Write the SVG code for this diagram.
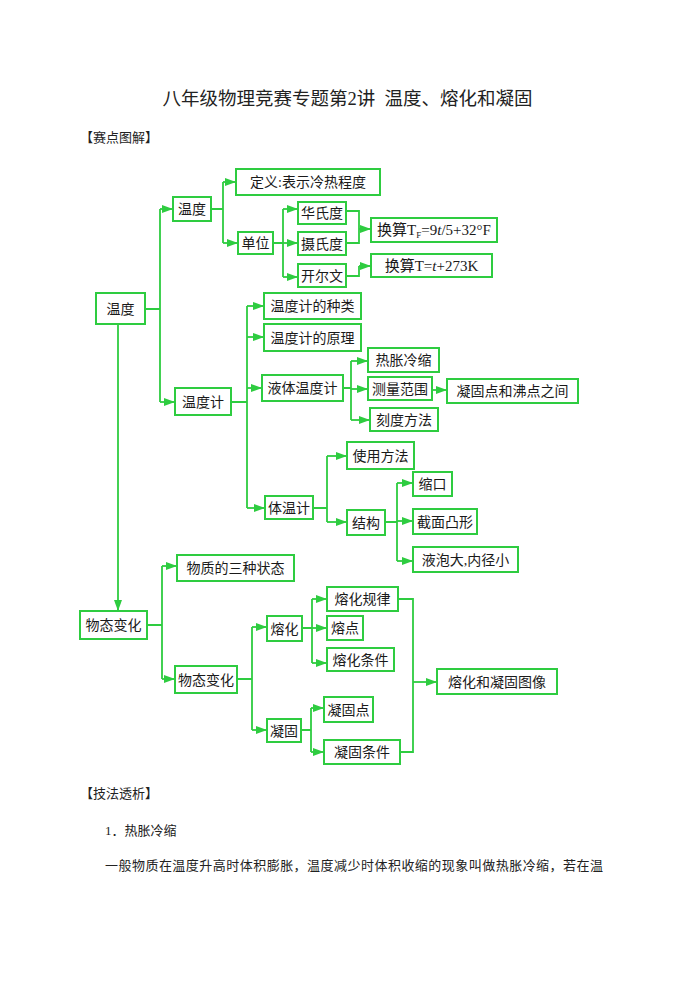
<svg xmlns="http://www.w3.org/2000/svg" width="695" height="982" viewBox="0 0 695 982">
<defs>
<marker id="ah" markerUnits="userSpaceOnUse" markerWidth="11" markerHeight="8" refX="11" refY="4" orient="auto">
<path d="M0,0 L11,4 L0,8 z" fill="#2ecc40"/>
</marker>
<style>
.bx{fill:#fff;stroke:#2ecc40;stroke-width:2}
.ln{fill:none;stroke:#2ecc40;stroke-width:1.8}
.ar{fill:none;stroke:#2ecc40;stroke-width:1.8;marker-end:url(#ah)}
.t{font-family:"Liberation Serif","Noto Sans CJK SC",serif;font-size:14px;fill:#1a1a1a;text-anchor:middle}
.p{font-family:"Liberation Serif","Noto Sans CJK SC",serif;font-size:13px;fill:#222}
</style>
</defs>
<rect width="695" height="982" fill="#fff"/>
<text x="347.5" y="105" font-family="Liberation Serif, Noto Sans CJK SC, serif" font-size="18.5" fill="#222" text-anchor="middle" xml:space="preserve">八年级物理竞赛专题第2讲  温度、熔化和凝固</text>
<text class="p" x="80" y="142">【赛点图解】</text>
<text class="p" x="80" y="798">【技法透析】</text>
<text class="p" x="105" y="835">1．热胀冷缩</text>
<text class="p" x="105" y="870" textLength="498" lengthAdjust="spacing">一般物质在温度升高时体积膨胀，温度减少时体积收缩的现象叫做热胀冷缩，若在温</text>

<g id="connectors">
<path class="ln" d="M145,309 H160 M160,209 V402"/>
<path class="ar" d="M160,209 H173"/>
<path class="ar" d="M160,402 H175"/>
<path class="ln" d="M211,209 H223 M223,182 V243"/>
<path class="ar" d="M223,182 H236"/>
<path class="ar" d="M223,243 H238"/>
<path class="ln" d="M273,243 H283 M283,209 V277"/>
<path class="ar" d="M283,209 H298"/>
<path class="ar" d="M283,243 H298"/>
<path class="ar" d="M283,277 H298"/>
<path class="ln" d="M346,211 H359 V243 H346"/>
<path class="ar" d="M359,229 H371"/>
<path class="ln" d="M346,276 H359 V266"/>
<path class="ar" d="M359,266 H371"/>
<path class="ln" d="M231,402 H247 M247,306 V508"/>
<path class="ar" d="M247,306 H264"/>
<path class="ar" d="M247,337 H264"/>
<path class="ar" d="M247,388 H262"/>
<path class="ar" d="M247,508 H265"/>
<path class="ln" d="M343,388 H351 M351,361 V420"/>
<path class="ar" d="M351,361 H368"/>
<path class="ar" d="M351,389 H368"/>
<path class="ar" d="M351,420 H370"/>
<path class="ar" d="M432,390 H447"/>
<path class="ln" d="M313,508 H327 M327,456 V522"/>
<path class="ar" d="M327,456 H347"/>
<path class="ar" d="M327,522 H347"/>
<path class="ln" d="M385,522 H397 M397,483 V561"/>
<path class="ar" d="M397,483 H413"/>
<path class="ar" d="M397,521 H413"/>
<path class="ar" d="M397,561 H413"/>
<path class="ar" d="M118,324 V611"/>
<path class="ln" d="M147,625 H162 M162,566 V679"/>
<path class="ar" d="M162,566 H177"/>
<path class="ar" d="M162,679 H175"/>
<path class="ln" d="M237,679 H252 M252,627 V730"/>
<path class="ar" d="M252,627 H267"/>
<path class="ar" d="M252,730 H267"/>
<path class="ln" d="M302,628 H312 M312,599 V663"/>
<path class="ar" d="M312,599 H327"/>
<path class="ar" d="M312,628 H327"/>
<path class="ar" d="M312,663 H327"/>
<path class="ln" d="M398,599 H413 V752 H400"/>
<path class="ar" d="M413,682 H437"/>
<path class="ln" d="M301,730 H311 M311,708 V752"/>
<path class="ar" d="M311,708 H324"/>
<path class="ar" d="M311,752 H324"/>
</g>

<g id="n-wendu-root"><rect class="bx" x="96" y="293" width="49" height="31"/><text class="t" x="120.5" y="313.5">温度</text></g>
<g id="n-wendu"><rect class="bx" x="173" y="197" width="38" height="24"/><text class="t" x="192" y="214">温度</text></g>
<g id="n-dingyi"><rect class="bx" x="236" y="169" width="144" height="26"/><text class="t" x="308" y="187">定义:表示冷热程度</text></g>
<g id="n-danwei"><rect class="bx" x="238" y="232" width="35" height="22"/><text class="t" x="255.5" y="248">单位</text></g>
<g id="n-huashidu"><rect class="bx" x="298" y="202" width="48" height="22"/><text class="t" x="322" y="218">华氏度</text></g>
<g id="n-sheshidu"><rect class="bx" x="298" y="232" width="48" height="23"/><text class="t" x="322" y="248.5">摄氏度</text></g>
<g id="n-kaierwen"><rect class="bx" x="298" y="264" width="48" height="23"/><text class="t" x="322" y="280.5">开尔文</text></g>
<g id="n-huansuan-f"><rect class="bx" x="371" y="218" width="126" height="24"/><text class="t" x="434" y="235" style="font-size:15px">换算T<tspan font-size="9" dy="3">F</tspan><tspan dy="-3">=9</tspan><tspan font-style="italic">t</tspan>/5+32°F</text></g>
<g id="n-huansuan-k"><rect class="bx" x="371" y="254" width="121" height="23"/><text class="t" x="431.5" y="270.5" style="font-size:15px">换算T=<tspan font-style="italic">t</tspan>+273K</text></g>
<g id="n-wenduji"><rect class="bx" x="175" y="388" width="56" height="27"/><text class="t" x="203" y="406.5">温度计</text></g>
<g id="n-zhonglei"><rect class="bx" x="264" y="293" width="97" height="26"/><text class="t" x="312.5" y="311">温度计的种类</text></g>
<g id="n-yuanli"><rect class="bx" x="264" y="324" width="97" height="27"/><text class="t" x="312.5" y="342.5">温度计的原理</text></g>
<g id="n-yeti"><rect class="bx" x="262" y="375" width="81" height="26"/><text class="t" x="302.5" y="393">液体温度计</text></g>
<g id="n-rezhang"><rect class="bx" x="368" y="348" width="71" height="24"/><text class="t" x="403.5" y="365">热胀冷缩</text></g>
<g id="n-celiang"><rect class="bx" x="368" y="377" width="64" height="23"/><text class="t" x="400" y="393.5">测量范围</text></g>
<g id="n-ningfei"><rect class="bx" x="447" y="379" width="131" height="24"/><text class="t" x="512.5" y="396">凝固点和沸点之间</text></g>
<g id="n-kedu"><rect class="bx" x="370" y="408" width="68" height="23"/><text class="t" x="404" y="424.5">刻度方法</text></g>
<g id="n-shiyong"><rect class="bx" x="347" y="442" width="67" height="27"/><text class="t" x="380.5" y="460.5">使用方法</text></g>
<g id="n-tiwenji"><rect class="bx" x="265" y="496" width="48" height="23"/><text class="t" x="289" y="512.5">体温计</text></g>
<g id="n-jiegou"><rect class="bx" x="347" y="510" width="38" height="25"/><text class="t" x="366" y="527.5">结构</text></g>
<g id="n-suokou"><rect class="bx" x="413" y="472" width="39" height="24"/><text class="t" x="432.5" y="489">缩口</text></g>
<g id="n-jiemian"><rect class="bx" x="413" y="509" width="64" height="25"/><text class="t" x="445" y="526.5">截面凸形</text></g>
<g id="n-yepao"><rect class="bx" x="413" y="547" width="105" height="25"/><text class="t" x="465.5" y="564.5">液泡大,内径小</text></g>
<g id="n-wutai-root"><rect class="bx" x="80" y="611" width="67" height="28"/><text class="t" x="113.5" y="630">物态变化</text></g>
<g id="n-sanzhong"><rect class="bx" x="177" y="555" width="117" height="26"/><text class="t" x="235.5" y="573">物质的三种状态</text></g>
<g id="n-wutai"><rect class="bx" x="175" y="666" width="62" height="27"/><text class="t" x="206" y="684.5">物态变化</text></g>
<g id="n-ronghua"><rect class="bx" x="267" y="616" width="35" height="25"/><text class="t" x="284.5" y="633.5">熔化</text></g>
<g id="n-guilv"><rect class="bx" x="327" y="587" width="71" height="24"/><text class="t" x="362.5" y="604">熔化规律</text></g>
<g id="n-rongdian"><rect class="bx" x="327" y="616" width="36" height="24"/><text class="t" x="345" y="633">熔点</text></g>
<g id="n-tiaojian"><rect class="bx" x="327" y="648" width="67" height="23"/><text class="t" x="360.5" y="664.5">熔化条件</text></g>
<g id="n-tuxiang"><rect class="bx" x="437" y="669" width="120" height="25"/><text class="t" x="497" y="686.5">熔化和凝固图像</text></g>
<g id="n-ninggu"><rect class="bx" x="267" y="719" width="34" height="23"/><text class="t" x="284" y="735.5">凝固</text></g>
<g id="n-ningdian"><rect class="bx" x="324" y="697" width="49" height="25"/><text class="t" x="348.5" y="714.5">凝固点</text></g>
<g id="n-ningtiaojian"><rect class="bx" x="324" y="740" width="76" height="24"/><text class="t" x="362" y="757">凝固条件</text></g>
</svg>
